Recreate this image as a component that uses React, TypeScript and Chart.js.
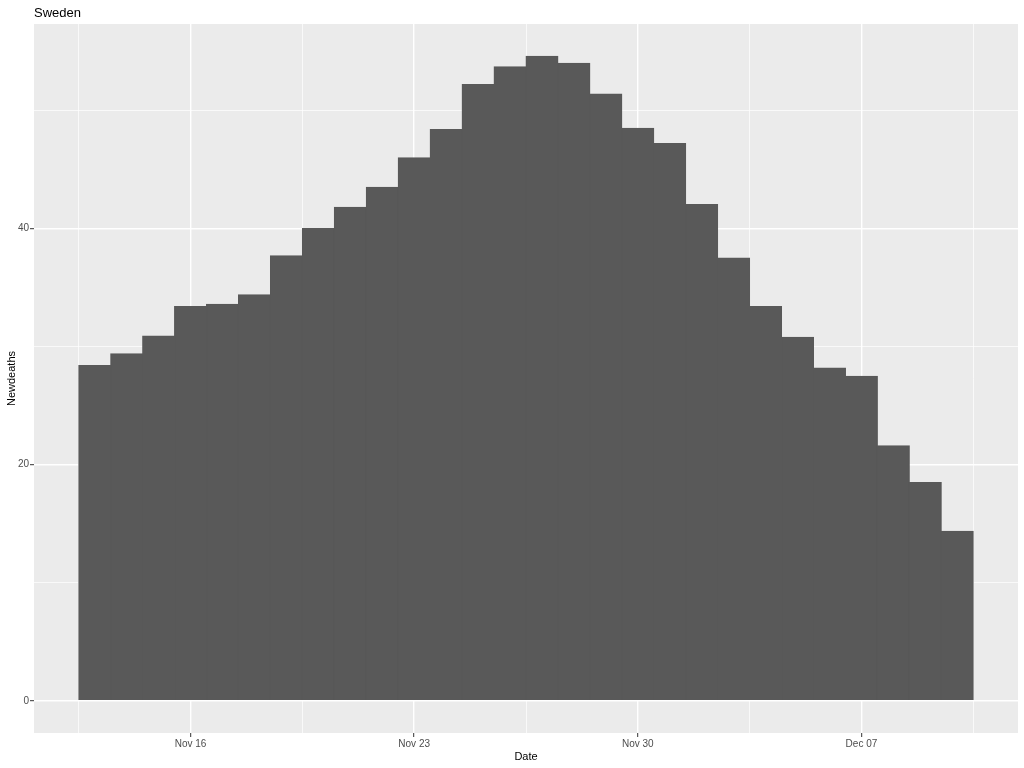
import React, { useEffect, useRef } from 'react'
import Chart from 'chart.js/auto'

// daily new deaths (smoothed), Sweden
const dates = [
  '2020-11-13', '2020-11-14', '2020-11-15', '2020-11-16', '2020-11-17', '2020-11-18', '2020-11-19',
  '2020-11-20', '2020-11-21', '2020-11-22', '2020-11-23', '2020-11-24', '2020-11-25', '2020-11-26',
  '2020-11-27', '2020-11-28', '2020-11-29', '2020-11-30', '2020-12-01', '2020-12-02', '2020-12-03',
  '2020-12-04', '2020-12-05', '2020-12-06', '2020-12-07', '2020-12-08', '2020-12-09', '2020-12-10',
]
const newDeaths = [
  28.4, 29.4, 30.9, 33.4, 33.6, 34.4, 37.7,
  40.0, 41.8, 43.5, 46.0, 48.4, 52.2, 53.7,
  54.6, 54.0, 51.4, 48.5, 47.2, 42.05, 37.5,
  33.4, 30.8, 28.2, 27.5, 21.6, 18.5, 14.35,
]
const xTickDates = ['2020-11-16', '2020-11-23', '2020-11-30', '2020-12-07']
const xTickLabels = ['Nov 16', 'Nov 23', 'Nov 30', 'Dec 07']
const yTicks = [0, 20, 40]
const yMinorTicks = [10, 30, 50]

const FONT = '"Liberation Sans", Arial, sans-serif'
const DAY = 86400000
const origin = Date.parse(dates[0])
const dayOf = (d: string) => (Date.parse(d) - origin) / DAY

export default function App() {
  const canvasRef = useRef<HTMLCanvasElement>(null)
  const chartRef = useRef<Chart | null>(null)

  useEffect(() => {
    if (chartRef.current) { chartRef.current.destroy(); chartRef.current = null }
    const ctx = canvasRef.current?.getContext('2d')
    if (!ctx) return

    const majorX = xTickDates.map(dayOf)
    const step = majorX[1] - majorX[0]
    const minorX = [majorX[0] - step / 2, ...majorX.map((v) => v + step / 2)]
    const lo = -0.5, hi = dates.length - 0.5
    const xPad = (hi - lo) * 0.05
    const yMax = Math.max(...newDeaths)
    const isMajorX = (v: number) => majorX.includes(v)
    const isMajorY = (v: number) => yTicks.includes(v)

    const panelBg = {
      id: 'panelBg',
      beforeDraw(c: Chart) {
        const { ctx: g, chartArea: a } = c
        g.save()
        g.fillStyle = '#EBEBEB'
        g.fillRect(a.left, a.top, a.right - a.left, a.bottom - a.top)
        g.restore()
      },
      afterDraw(c: Chart) {
        const { ctx: g, chartArea: a } = c
        g.save()
        g.fillStyle = '#000000'
        g.font = `13px ${FONT}`
        g.textBaseline = 'alphabetic'
        g.fillText('Sweden', a.left, 17)
        g.restore()
      },
    }

    chartRef.current = new Chart(ctx, {
      type: 'bar',
      data: {
        datasets: [{
          data: dates.map((d, i) => ({ x: dayOf(d), y: newDeaths[i] })),
          backgroundColor: '#595959',
          borderColor: '#595959',
          borderWidth: 1,
          borderSkipped: 'bottom',
          inflateAmount: 0.5,
          barPercentage: 1,
          categoryPercentage: 1,
        }],
      },
      options: {
        responsive: false,
        animation: false,
        layout: { padding: { left: 0, right: 6, top: 24, bottom: 0 } },
        plugins: { legend: { display: false }, tooltip: { enabled: false }, title: { display: false } },
        scales: {
          x: {
            type: 'linear',
            offset: false,
            min: lo - xPad,
            max: hi + xPad,
            afterBuildTicks: (s: any) => { s.ticks = [...minorX, ...majorX].sort((a, b) => a - b).map((v) => ({ value: v })) },
            afterFit: (s: any) => { s.height = 35 },
            ticks: {
              autoSkip: false,
              maxRotation: 0,
              padding: 1,
              color: '#4D4D4D',
              font: { family: FONT, size: 10 },
              callback: (v: any) => {
                const i = majorX.indexOf(Number(v))
                return i >= 0 ? xTickLabels[i] : ''
              },
            },
            grid: {
              offset: false,
              color: '#FFFFFF',
              lineWidth: (c: any) => (isMajorX(c.tick?.value) ? 1.4 : 0.7),
              tickColor: (c: any) => (isMajorX(c.tick?.value) ? '#333333' : 'rgba(0,0,0,0)'),
              tickLength: 4,
              tickWidth: 1,
            },
            border: { display: false },
            title: { display: true, text: 'Date', color: '#000000', font: { family: FONT, size: 11 }, padding: { top: 0, bottom: 4 } },
          },
          y: {
            type: 'linear',
            min: -yMax * 0.05,
            max: yMax * 1.05,
            afterBuildTicks: (s: any) => { s.ticks = [...yTicks, ...yMinorTicks].sort((a, b) => a - b).map((v) => ({ value: v })) },
            afterFit: (s: any) => { s.width = 34 },
            ticks: {
              autoSkip: false,
              padding: 1,
              color: '#4D4D4D',
              font: { family: FONT, size: 10 },
              callback: (v: any) => (isMajorY(Number(v)) ? String(v) : ''),
            },
            grid: {
              color: '#FFFFFF',
              lineWidth: (c: any) => (isMajorY(c.tick?.value) ? 1.4 : 0.7),
              tickColor: (c: any) => (isMajorY(c.tick?.value) ? '#333333' : 'rgba(0,0,0,0)'),
              tickLength: 4,
              tickWidth: 1,
            },
            border: { display: false },
            title: { display: true, text: 'Newdeaths', color: '#000000', font: { family: FONT, size: 11 }, padding: { top: 5, bottom: 0 } },
          },
        },
      },
      plugins: [panelBg],
    } as any)

    return () => { if (chartRef.current) chartRef.current.destroy() }
  }, [])

  return (
    <div style={{ position: 'absolute', left: 0, top: 0, width: 1024, height: 768, background: '#FFFFFF' }}>
      <canvas ref={canvasRef} width={1024} height={768} />
    </div>
  )
}
